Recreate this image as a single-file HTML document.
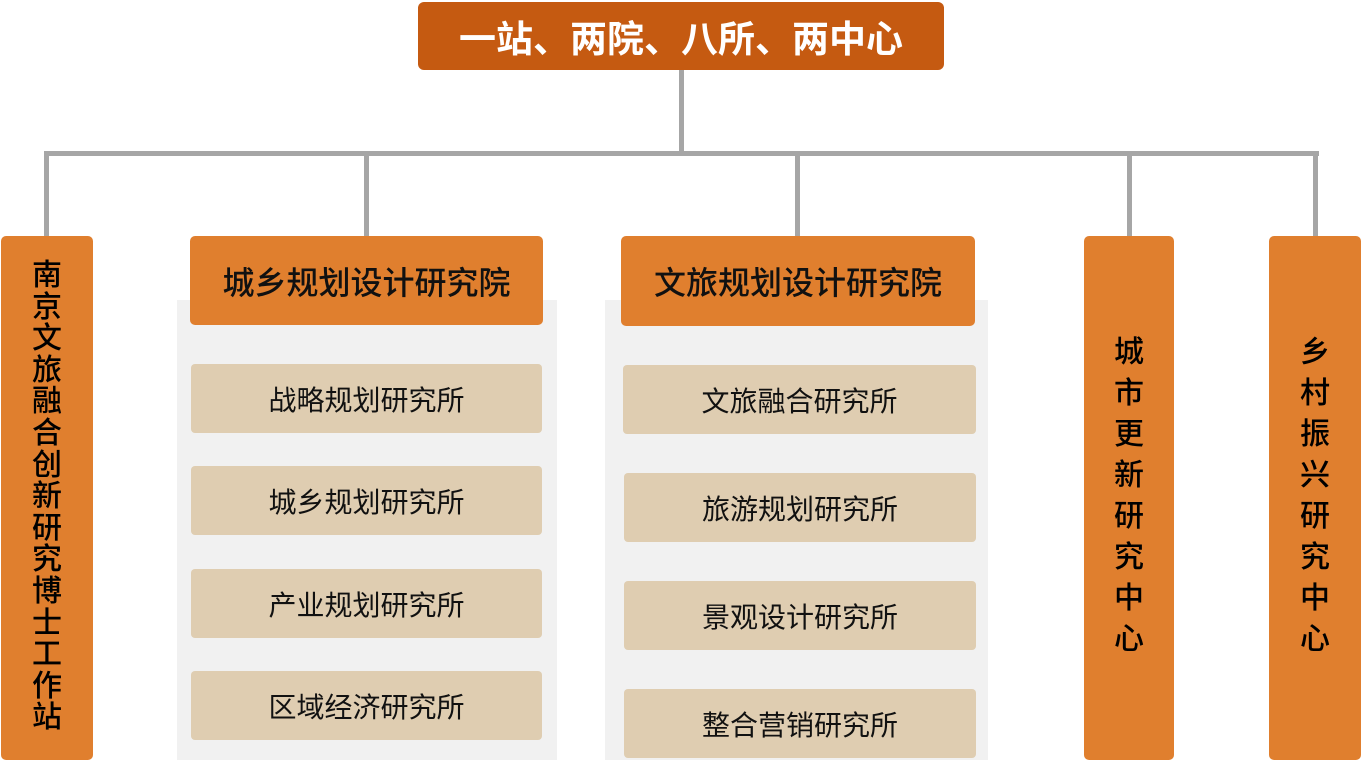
<!DOCTYPE html>
<html><head><meta charset="utf-8"><style>
body{margin:0;width:1361px;height:760px;background:#fff;position:relative;overflow:hidden;font-family:"Liberation Sans","Noto Sans CJK SC",sans-serif;}
div{position:absolute;box-sizing:border-box;}
.l{background:#a6a6a6;}
.o{background:#e07f2e;border-radius:5px;color:#111;}
.s{background:#dfcdb1;border-radius:4px;color:#111;font-size:28px;display:flex;align-items:center;justify-content:center;}
.p{background:#f1f1f1;}
.h{display:flex;align-items:center;justify-content:center;font-size:32px;font-weight:500;}
.v{text-align:center;font-size:30px;font-weight:500;}
</style></head><body>
<div class="l" style="left:679px;top:68px;width:5px;height:87px"></div>
<div class="l" style="left:44px;top:151px;width:1275px;height:5px"></div>
<div class="l" style="left:44px;top:151px;width:5px;height:87px"></div>
<div class="l" style="left:364px;top:151px;width:5px;height:87px"></div>
<div class="l" style="left:795px;top:151px;width:5px;height:87px"></div>
<div class="l" style="left:1127px;top:151px;width:5px;height:87px"></div>
<div class="l" style="left:1313px;top:151px;width:5px;height:87px"></div>
<div style="left:418px;top:2px;width:526px;height:68px;background:#c55a11;border-radius:6px;color:#fff;font-size:37px;font-weight:bold;display:flex;align-items:center;justify-content:center">一站、两院、八所、两中心</div>
<div class="o" style="left:1px;top:236px;width:92px;height:524px"></div>
<div class="v" style="left:1px;top:260px;width:92px;line-height:31.6px;padding:0 30px">南京文旅融合创新研究博士工作站</div>
<div class="p" style="left:177px;top:300px;width:380px;height:460px"></div>
<div class="o h" style="left:190px;top:236px;width:353px;height:89px">城乡规划设计研究院</div>
<div class="s" style="left:191px;top:364px;width:351px;height:69px">战略规划研究所</div>
<div class="s" style="left:191px;top:466px;width:351px;height:69px">城乡规划研究所</div>
<div class="s" style="left:191px;top:569px;width:351px;height:69px">产业规划研究所</div>
<div class="s" style="left:191px;top:671px;width:351px;height:69px">区域经济研究所</div>
<div class="p" style="left:605px;top:300px;width:383px;height:460px"></div>
<div class="o h" style="left:621px;top:236px;width:354px;height:90px">文旅规划设计研究院</div>
<div class="s" style="left:623px;top:365px;width:353px;height:69px">文旅融合研究所</div>
<div class="s" style="left:624px;top:473px;width:352px;height:69px">旅游规划研究所</div>
<div class="s" style="left:624px;top:581px;width:352px;height:69px">景观设计研究所</div>
<div class="s" style="left:624px;top:689px;width:352px;height:69px">整合营销研究所</div>
<div class="o" style="left:1084px;top:236px;width:90px;height:524px"></div>
<div class="v" style="left:1084px;top:332px;width:90px;line-height:41px;padding:0 30px">城市更新研究中心</div>
<div class="o" style="left:1269px;top:236px;width:92px;height:524px"></div>
<div class="v" style="left:1269px;top:332px;width:92px;line-height:41px;padding:0 31px">乡村振兴研究中心</div>
</body></html>
